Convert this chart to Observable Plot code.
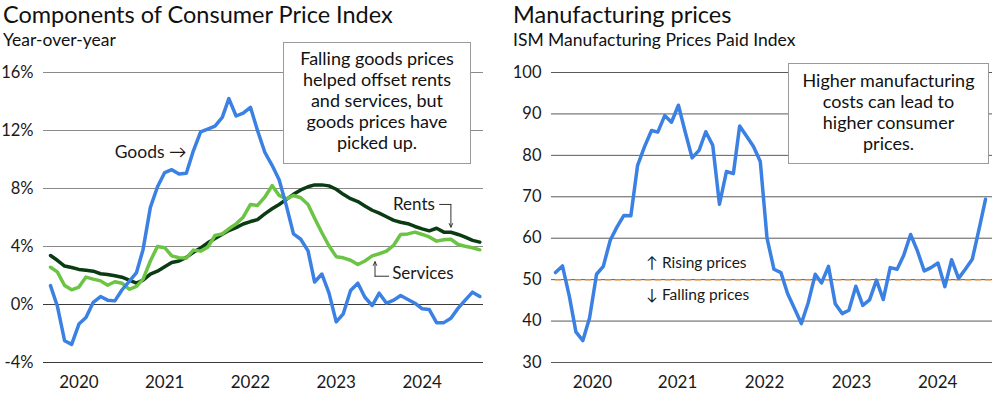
<!DOCTYPE html>
<html>
<head>
<meta charset="utf-8">
<script src="https://cdn.jsdelivr.net/npm/d3@7"></script>
<script src="https://cdn.jsdelivr.net/npm/@observablehq/plot@0.6"></script>
<style>
  body { margin: 0; background: #fff; font-family: Lato, "Open Sans", sans-serif; color: #111; }
  #wrap { position: relative; width: 1000px; height: 395px; overflow: hidden; }
  .title { position: absolute; font-size: 23.5px; line-height: normal; white-space: nowrap; }
  .sub { position: absolute; font-size: 17.5px; line-height: normal; white-space: nowrap; }
  .chart { position: absolute; top: 52px; }
  .note { position: absolute; background: #fff; border: 1px solid #9a9a9a; box-sizing: border-box;
          text-align: center; font-size: 18px; line-height: 21px; color: #111; }
</style>
</head>
<body>
<div id="wrap">
  <div class="title" style="left:3px;top:0px">Components of Consumer Price Index</div>
  <div class="sub" style="left:3px;top:29px">Year-over-year</div>
  <div id="left" class="chart" style="left:0px"></div>
  <div class="title" style="left:513px;top:0px">Manufacturing prices</div>
  <div class="sub" style="left:513px;top:29px">ISM Manufacturing Prices Paid Index</div>
  <div id="right" class="chart" style="left:500px"></div>
  <div class="note" style="left:283px;top:42px;width:188px;height:122px;padding-top:5px">Falling goods prices<br>helped offset rents<br>and services, but<br>goods prices have<br>picked up.</div>
  <div class="note" style="left:788px;top:63px;width:201px;height:101px;padding-top:6px">Higher manufacturing<br>costs can lead to<br>higher consumer<br>prices.</div>
</div>
<script>
// ---------- Data: CPI components, year-over-year %, monthly Feb 2020 – Feb 2025 ----------
const cpiFirstMonth = "2020-02-01";
const goods = [
  1.3, -0.1, -2.5, -2.75, -1.35, -0.9, 0.15, 0.55, 0.3, 0.25,
  1.0, 1.6, 2.2, 3.8, 6.7, 8.1, 9.1, 9.3, 9.0, 9.05,
  10.6, 11.9, 12.1, 12.3, 12.9, 14.2, 13.0, 13.2, 13.6, 12.0,
  10.5, 9.6, 8.6, 6.8, 4.87, 4.5, 3.7, 1.55, 2.1, 0.8,
  -1.2, -0.64, 0.97, 1.47, 0.5, -0.07, 0.78, 0.09, 0.3, 0.62,
  0.35, 0.09, -0.3, -0.35, -1.25, -1.25, -0.95, -0.25, 0.3, 0.85,
  0.55
];
const rents = [
  3.38, 3.05, 2.65, 2.55, 2.42, 2.36, 2.3, 2.12, 2.07, 1.98,
  1.88, 1.68, 1.47, 1.68, 2.1, 2.3, 2.6, 2.9, 3.0, 3.25,
  3.6, 3.9, 4.25, 4.55, 4.85, 5.1, 5.3, 5.55, 5.72, 5.85,
  6.25, 6.6, 6.9, 7.25, 7.6, 7.9, 8.12, 8.25, 8.25, 8.18,
  7.95, 7.6, 7.3, 7.1, 6.8, 6.5, 6.3, 6.05, 5.8, 5.67,
  5.57, 5.38, 5.22, 5.08, 5.26, 4.99, 4.98, 4.83, 4.64, 4.42,
  4.3
];
const services = [
  2.57, 2.25, 1.31, 1.01, 1.2, 1.89, 1.75, 1.63, 1.33, 1.57,
  1.47, 1.05, 1.25, 1.75, 3.0, 4.0, 3.92, 3.35, 3.22, 3.2,
  3.75, 3.68, 3.95, 4.76, 4.87, 5.22, 5.56, 6.02, 6.9, 6.83,
  7.4, 8.2, 7.52, 7.29, 7.52, 7.36, 6.9, 5.95, 4.95, 4.05,
  3.3, 3.22, 3.05, 2.76, 3.0, 3.35, 3.5, 3.68, 4.1, 4.83,
  4.87, 4.99, 4.83, 4.66, 4.37, 4.46, 4.5, 4.14, 4.02, 3.91,
  3.77
];
const cpiYTicks = [-4, 0, 4, 8, 12, 16];
const cpiYearTicks = ["2020-06-01", "2021-06-01", "2022-06-01", "2023-06-01", "2024-06-01"];

// ---------- Data: ISM Manufacturing Prices Paid, monthly Dec 2019 – Mar 2025 ----------
const ismFirstMonth = "2019-12-01";
const ism = [
  51.7,
  53.3, 45.9, 37.4, 35.3, 40.8, 51.3, 53.2, 59.5, 62.8, 65.5, 65.4, 77.6,
  82.1, 86.0, 85.6, 89.6, 88.0, 92.1, 85.7, 79.4, 81.2, 85.7, 82.4, 68.2,
  76.1, 75.6, 87.1, 84.6, 82.2, 78.5, 60.0, 52.5, 51.7, 46.6, 43.0, 39.4,
  44.5, 51.3, 49.2, 53.2, 44.2, 41.8, 42.6, 48.4, 43.8, 45.1, 49.9, 45.2,
  52.9, 52.5, 55.8, 60.9, 57.0, 52.1, 52.9, 54.0, 48.3, 54.8, 50.3, 52.5,
  54.9, 62.4, 69.4
];
const ismYTicks = [30, 40, 50, 60, 70, 80, 90, 100];
const ismYearTicks = ["2020-05-14", "2021-05-28", "2022-06-20", "2023-07-13", "2024-07-31"];
const ismNeutral = 50;

// ---------- Build tables ----------
const D = s => new Date(s + "T00:00:00Z");
const cpiRows = goods.map((g, i) => ({
  date: d3.utcMonth.offset(D(cpiFirstMonth), i),
  goods: g, rents: rents[i], services: services[i]
}));
const ismRows = ism.map((v, i) => ({ date: d3.utcMonth.offset(D(ismFirstMonth), i), value: v }));

const FONT = "Lato, 'Open Sans', sans-serif";
const ink = "#1a1a1a";

// ---------- Left chart ----------
const left = Plot.plot({
  width: 500, height: 343,
  marginLeft: 43, marginRight: 17, marginTop: 20, marginBottom: 33,
  style: { fontFamily: FONT, fontSize: "17px", color: ink, background: "transparent" },
  x: { type: "utc", domain: [cpiRows[0].date, cpiRows[cpiRows.length - 1].date], range: [50, 479.3] },
  y: { domain: [-4, 16] },
  marks: [
    Plot.ruleY(cpiYTicks.filter(d => d > 0), { stroke: "#8a8a8a", strokeWidth: 1 }),
    Plot.ruleY(cpiYTicks.filter(d => d <= 0), { stroke: "#3a3a3a", strokeWidth: 1 }),
    Plot.axisY(cpiYTicks, { tickSize: 0, tickPadding: 10, tickFormat: d => d + "%", fontSize: 16.5 }),
    Plot.axisX(cpiYearTicks.map(D), { tickSize: 0, tickPadding: 13, tickFormat: d => String(d.getUTCFullYear()), fontSize: 17 }),
    Plot.line(cpiRows, { x: "date", y: "rents", stroke: "#0b3b13", strokeWidth: 3.5 }),
    Plot.line(cpiRows, { x: "date", y: "services", stroke: "#6cc444", strokeWidth: 3.5 }),
    Plot.line(cpiRows, { x: "date", y: "goods", stroke: "#3b80e3", strokeWidth: 3.5 }),
    // labels
    Plot.text([{ x: D("2021-09-02"), y: 10.5 }], { x: "x", y: "y", text: () => "Goods →", textAnchor: "end", fontSize: 17.5, fill: ink }),
    Plot.text([{ x: D("2024-07-25"), y: 6.92 }], { x: "x", y: "y", text: () => "Rents", textAnchor: "end", fontSize: 17, fill: ink }),
    Plot.line([{ x: D("2024-08-14"), y: 6.9 }, { x: D("2024-10-01"), y: 6.9 }], { x: "x", y: "y", stroke: "#333", strokeWidth: 1 }),
    Plot.arrow([{ x: D("2024-10-01"), y1: 6.9, y2: 5.33 }], { x: "x", y1: "y1", y2: "y2", stroke: "#333", strokeWidth: 1, headLength: 6, headAngle: 50 }),
    Plot.text([{ x: D("2024-01-25"), y: 2.12 }], { x: "x", y: "y", text: () => "Services", textAnchor: "start", fontSize: 17, fill: ink }),
    Plot.line([{ x: D("2023-11-13"), y: 1.95 }, { x: D("2024-01-10"), y: 1.95 }], { x: "x", y: "y", stroke: "#333", strokeWidth: 1 }),
    Plot.arrow([{ x: D("2023-11-13"), y1: 1.95, y2: 2.95 }], { x: "x", y1: "y1", y2: "y2", stroke: "#333", strokeWidth: 1, headLength: 6, headAngle: 50 })
  ]
});
document.getElementById("left").append(left);

// ---------- Right chart ----------
const right = Plot.plot({
  width: 500, height: 343,
  marginLeft: 51, marginRight: 8, marginTop: 20, marginBottom: 33,
  style: { fontFamily: FONT, fontSize: "17px", color: ink, background: "transparent" },
  x: { type: "utc", domain: [ismRows[0].date, ismRows[ismRows.length - 1].date], range: [55, 485] },
  y: { domain: [30, 100] },
  marks: [
    Plot.ruleY(ismYTicks, { stroke: "#5a5a5a", strokeWidth: 1 }),
    Plot.axisY(ismYTicks, { tickSize: 0, tickPadding: 10, fontSize: 16.5 }),
    Plot.axisX(ismYearTicks.map(D), { tickSize: 0, tickPadding: 13, tickFormat: d => String(d.getUTCFullYear()), fontSize: 17 }),
    Plot.ruleY([ismNeutral], { x1: ismRows[0].date, x2: D("2025-04-01"), stroke: "#f08a24", strokeWidth: 1.5, strokeDasharray: "6,4" }),
    Plot.line(ismRows, { x: "date", y: "value", stroke: "#3b80e3", strokeWidth: 3.5 }),
    Plot.text([{ x: D("2021-01-09"), y: 53.9 }], { x: "x", y: "y", text: () => "↑ Rising prices", textAnchor: "start", fontSize: 15.5, fill: ink }),
    Plot.text([{ x: D("2021-01-09"), y: 46.4 }], { x: "x", y: "y", text: () => "↓ Falling prices", textAnchor: "start", fontSize: 15.5, fill: ink })
  ]
});
document.getElementById("right").append(right);
</script>
</body>
</html>
